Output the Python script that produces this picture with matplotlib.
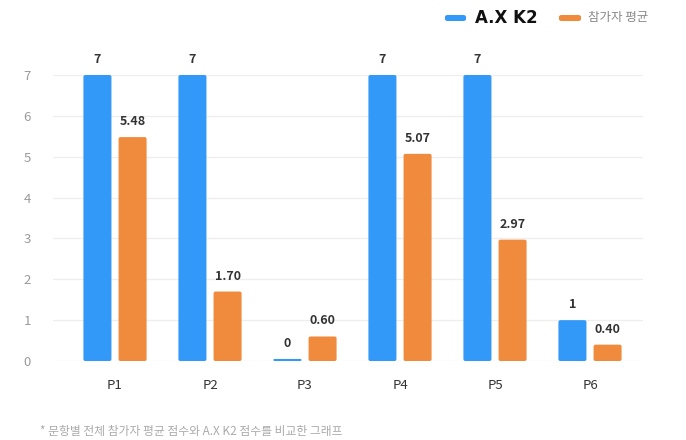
import matplotlib
matplotlib.use("Agg")
import matplotlib.pyplot as plt
from matplotlib.patches import FancyBboxPatch
import numpy as np

plt.rcParams['font.family'] = ['Noto Sans CJK KR', 'DejaVu Sans']

categories = ["P1", "P2", "P3", "P4", "P5", "P6"]
ax_k2 = [7, 7, 0, 7, 7, 1]
participants = [5.48, 1.70, 0.60, 5.07, 2.97, 0.40]
k2_labels = ["7", "7", "0", "7", "7", "1"]
part_labels = ["5.48", "1.70", "0.60", "5.07", "2.97", "0.40"]
yticks = [0, 1, 2, 3, 4, 5, 6, 7]
series_names = ["A.X K2", "참가자 평균"]
footnote = "* 문항별 전체 참가자 평균 점수와 A.X K2 점수를 비교한 그래프"

BLUE = "#3399F8"
ORANGE = "#F08A3C"

W, H = 686, 440
fig = plt.figure(figsize=(W / 100, H / 100), dpi=100)
ax = fig.add_axes([53 / W, 1 - 361 / H, (643 - 53) / W, (361 - 75) / H])

x = np.arange(len(categories))
bw = 0.295
off = 0.185
min_h = 0.05

b1 = ax.bar(x - off, [max(v, min_h) for v in ax_k2], bw, color=BLUE, zorder=3)
b2 = ax.bar(x + off, [max(v, min_h) for v in participants], bw, color=ORANGE, zorder=3)

# replace with slightly rounded bars
for bars, col in ((b1, BLUE), (b2, ORANGE)):
    for r in bars:
        bx, by, bwid, bh = r.get_x(), r.get_y(), r.get_width(), r.get_height()
        r.set_visible(False)
        rs = min(0.02, bh / 2.3 / 2)
        p = FancyBboxPatch((bx, by), bwid, bh,
                           boxstyle=f"round,pad=0,rounding_size={rs}",
                           mutation_aspect=2.3, fc=col, ec='none', zorder=3)
        ax.add_patch(p)

for xi, v, lab in zip(x, ax_k2, k2_labels):
    ax.text(xi - off, max(v, min_h) + 0.22, lab, ha='center', va='bottom',
            fontsize=9, color='#333333', fontweight='semibold', clip_on=False)
for xi, v, lab in zip(x, participants, part_labels):
    ax.text(xi + off, v + 0.22, lab, ha='center', va='bottom',
            fontsize=9, color='#333333', fontweight='semibold', clip_on=False)

ax.set_xlim((53 - 115) / 95, (643 - 115) / 95)
ax.set_ylim(0, 7)
ax.set_yticks(yticks)
ax.set_yticklabels([str(t) for t in yticks], fontsize=9.5, color='#9a9a9a')
ax.set_xticks(x)
ax.set_xticklabels(categories, fontsize=9.5, color='#333333')
ax.tick_params(axis='both', length=0)
ax.tick_params(axis='y', pad=16)
ax.tick_params(axis='x', pad=13)
ax.grid(axis='y', color='#eeeeee', linewidth=0.9, zorder=0)
for s in ax.spines.values():
    s.set_visible(False)

# legend
fig.patches.append(FancyBboxPatch((445 / W, 1 - 21 / H), 21 / W, 6 / H,
                                  boxstyle="round,pad=0,rounding_size=0.004",
                                  transform=fig.transFigure, fc=BLUE, ec='none'))
fig.text(475 / W, 1 - 18 / H, series_names[0], fontsize=12, fontweight='heavy',
         color='#111111', va='center', ha='left', family=['DejaVu Sans'])
fig.patches.append(FancyBboxPatch((559 / W, 1 - 21 / H), 22 / W, 6 / H,
                                  boxstyle="round,pad=0,rounding_size=0.004",
                                  transform=fig.transFigure, fc=ORANGE, ec='none'))
fig.text(588 / W, 1 - 18 / H, series_names[1], fontsize=9, color='#888888',
         va='center', ha='left')

fig.text(40 / W, 1 - 431 / H, footnote, fontsize=8.5, color='#aaaaaa',
         va='center', ha='left')

fig.savefig("out.png", dpi=100, facecolor='white')
